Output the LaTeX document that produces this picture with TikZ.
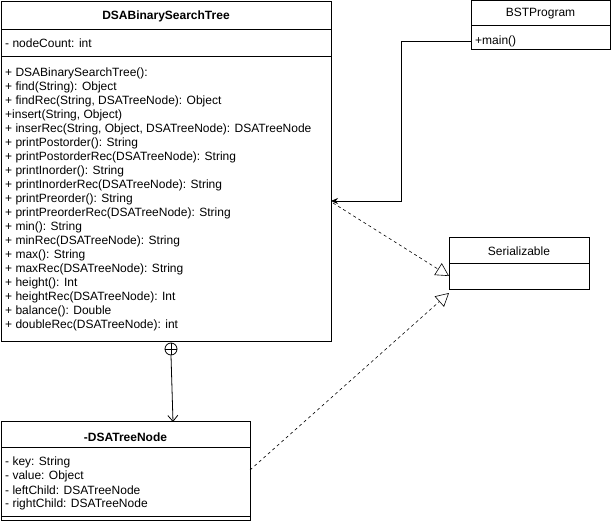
\documentclass[tikz,border=0pt]{standalone}
\usepackage{fontspec}
\setmainfont{Liberation Sans}
\usetikzlibrary{arrows.meta,calc}
\begin{document}
\begin{tikzpicture}[x=1pt,y=-1pt,
  box/.style={draw, line width=1pt, inner sep=0pt, outer sep=0pt, anchor=north west},
  txt/.style={anchor=west, inner sep=0pt, font=\fontsize{12}{14}\selectfont},
  ttl/.style={inner sep=0pt, font=\fontsize{12}{14}\selectfont\bfseries},
  ctitle/.style={inner sep=0pt, font=\fontsize{12}{14}\selectfont},
  assoc/.style={line width=0.8pt, -{Stealth[length=7pt,width=6pt]}},
  real/.style={line width=0.6pt, dash pattern=on 3pt off 3pt, -{Triangle[open,length=13pt,width=14pt,fill=white]}},
  nest/.style={line width=0.8pt, -{Straight Barb[length=6pt,width=10pt]}}]
\useasboundingbox (0,0) rectangle (611,521);
\fill[white] (0,0) rectangle (611,521);

% DSABinarySearchTree
\node[box, minimum width=330pt, minimum height=340pt] (main) at (1,2) {};
\draw[line width=1pt] (1,30) -- (331,30);
\draw[line width=1pt] (1,57) -- (331,57);
\node[ttl] (mainT) at (166,16) {DSABinarySearchTree};
\node[txt] (a1) at (5,43) {- nodeCount: int};
\foreach \t [count=\i from 0] in {%
  {+ DSABinarySearchTree():},
  {+ find(String): Object},
  {+ findRec(String, DSATreeNode): Object},
  {+insert(String, Object)},
  {+ inserRec(String, Object, DSATreeNode): DSATreeNode},
  {+ printPostorder(): String},
  {+ printPostorderRec(DSATreeNode): String},
  {+ printInorder(): String},
  {+ printInorderRec(DSATreeNode): String},
  {+ printPreorder(): String},
  {+ printPreorderRec(DSATreeNode): String},
  {+ min(): String},
  {+ minRec(DSATreeNode): String},
  {+ max(): String},
  {+ maxRec(DSATreeNode): String},
  {+ height(): Int},
  {+ heightRec(DSATreeNode): Int},
  {+ balance(): Double},
  {+ doubleRec(DSATreeNode): int}}
  {\node[txt] (m\i) at (5,{73+14*\i}) {\t};}

% BSTProgram
\node[box, minimum width=139pt, minimum height=49pt] (bst) at (471,1) {};
\draw[line width=1pt] (471,26) -- (610,26);
\node[ctitle] (bstT) at (540.5,14) {BSTProgram};
\node[txt] (bstm) at (475,41) {+main()};

% Serializable
\node[box, minimum width=140pt, minimum height=52pt] (ser) at (449,238) {};
\draw[line width=1pt] (449,264) -- (589,264);
\node[ctitle] (serT) at (519,251) {Serializable};

% DSATreeNode
\node[box, minimum width=249pt, minimum height=98pt] (tn) at (1,422) {};
\draw[line width=1pt] (1,448) -- (250,448);
\draw[line width=1pt] (1,516) -- (250,516);
\node[ttl] (tnT) at (125.5,437) {-DSATreeNode};
\node[txt] (t1) at (5,462) {- key: String};
\node[txt] (t2) at (5,476) {- value: Object};
\node[txt] (t3) at (5,490) {- leftChild: DSATreeNode};
\node[txt] (t4) at (5,504) {- rightChild: DSATreeNode};

% connectors
\draw[assoc] (bst.west |- bstm.west) -- (401,41) -- (401,201) -- (main.east |- 0,201);
\draw[real] (333,203) -- (ser.west |- 0,276);
\draw[real] (tn.east |- 0,470) -- ([yshift=-3pt]ser.south west);

\node[circle, draw, line width=0.8pt, minimum size=12pt, inner sep=0pt] (circ) at (171,349) {};
\draw[line width=0.8pt] (circ.north) -- (circ.south) (circ.west) -- (circ.east);
\draw[nest] (circ.south) -- (tn.north -| 173,0);
\end{tikzpicture}
\end{document}
